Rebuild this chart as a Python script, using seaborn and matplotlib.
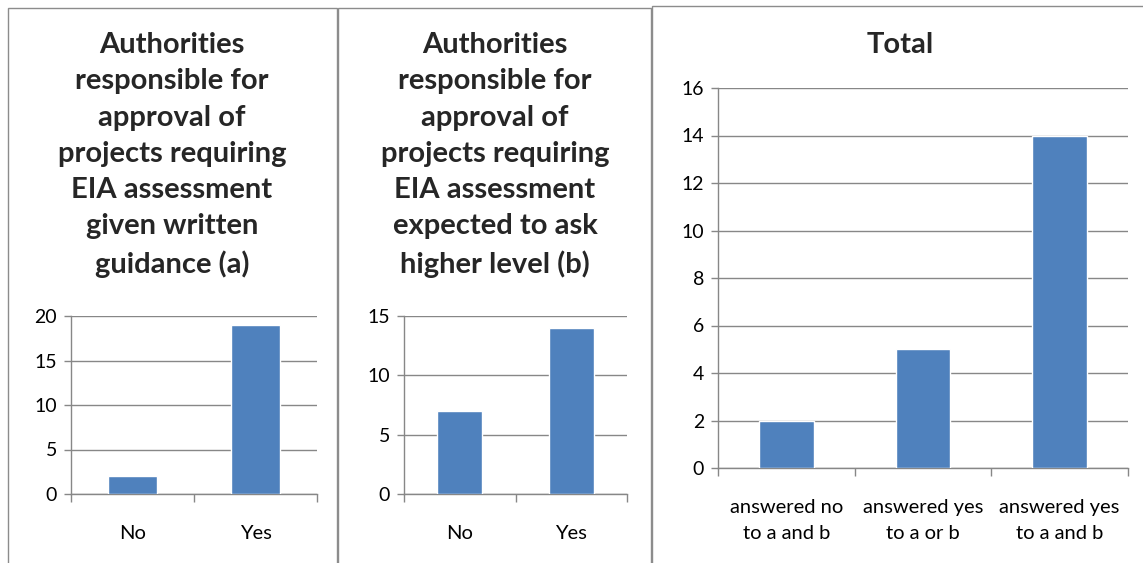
import matplotlib
matplotlib.use("Agg")
import matplotlib.pyplot as plt
from matplotlib.patches import Rectangle
from matplotlib.ticker import FixedLocator
import seaborn as sns
import pandas as pd

# chart data
cats_a = ["No", "Yes"]
vals_a = [2, 19]
title_a = "Authorities\nresponsible for\napproval of\nprojects requiring\nEIA assessment\ngiven written\nguidance (a)"

cats_b = ["No", "Yes"]
vals_b = [7, 14]
title_b = "Authorities\nresponsible for\napproval of\nprojects requiring\nEIA assessment\nexpected to ask\nhigher level (b)"

cats_total = ["answered no\nto a and b", "answered yes\nto a or b", "answered yes\nto a and b"]
vals_total = [2, 5, 14]
title_total = "Total"

BAR = "#4F81BD"
GRID = "#878787"

sns.set_theme(style="white")
plt.rcParams["font.family"] = ["Lato", "DejaVu Sans"]

W, H = 1143, 563
fig = plt.figure(figsize=(W / 100, H / 100), dpi=100)


def px_axes(left, right, top, bottom):
    return fig.add_axes([left / W, 1 - bottom / H, (right - left) / W, (bottom - top) / H])


def draw_panel(ax, cats, vals, ymax, ystep):
    df = pd.DataFrame({"cat": cats, "val": vals})
    sns.barplot(data=df, x="cat", y="val", color=BAR, width=0.4, saturation=1, ax=ax, zorder=3)
    n = len(cats)
    ax.set_xlim(-0.5, n - 0.5)
    ax.set_ylim(0, ymax)
    ax.set_yticks(range(0, ymax + 1, ystep))
    ax.grid(axis="y", color=GRID, linewidth=1, zorder=0)
    ax.set_xlabel("")
    ax.set_ylabel("")
    for s in ["top", "right"]:
        ax.spines[s].set_visible(False)
    for s in ["left", "bottom"]:
        ax.spines[s].set_color(GRID)
        ax.spines[s].set_linewidth(1)
    ax.xaxis.set_minor_locator(FixedLocator([i - 0.5 for i in range(n + 1)]))
    ax.set_xticks(range(n))
    ax.set_xticklabels(cats, linespacing=1.69, fontsize=14.5, color="black")
    ax.tick_params(axis="x", which="major", length=0, pad=22)
    ax.tick_params(axis="x", which="minor", length=6, width=1, color=GRID, direction="out", bottom=True)
    ax.tick_params(axis="y", length=5, width=1, color=GRID, direction="out", left=True,
                   labelsize=14, pad=5, labelcolor="black")


# panel borders
for x0, x1, y0 in [(8, 337, 8), (338, 651, 8), (652, 1150, 6)]:
    fig.patches.append(Rectangle((x0 / W, -0.1), (x1 - x0) / W, 1 - y0 / H + 0.1,
                                 transform=fig.transFigure, fill=False,
                                 edgecolor="#8c8c8c", linewidth=1))

ax1 = px_axes(71, 317, 316, 494)
draw_panel(ax1, cats_a, vals_a, 20, 5)
ax2 = px_axes(404, 627, 316, 494)
draw_panel(ax2, cats_b, vals_b, 15, 5)
ax3 = px_axes(718, 1128, 88, 468)
draw_panel(ax3, cats_total, vals_total, 16, 2)

title_kw = dict(ha="center", va="top", fontsize=21, fontweight="bold", linespacing=1.49)
fig.text(172 / W, 1 - 32 / H, title_a, **title_kw)
fig.text(495 / W, 1 - 32 / H, title_b, **title_kw)
fig.text(900 / W, 1 - 32 / H, title_total, **title_kw)

fig.savefig("out.png", dpi=100)
